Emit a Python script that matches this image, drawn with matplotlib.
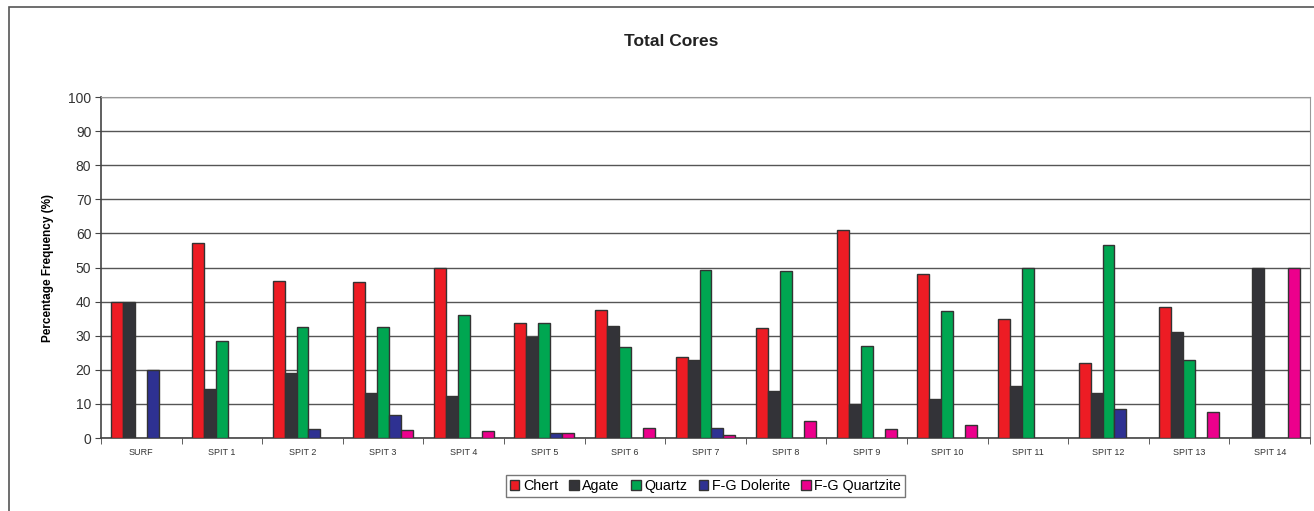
import numpy as np
import matplotlib.pyplot as plt
from matplotlib.patches import Rectangle

plt.rcParams['font.family'] = ['Liberation Sans', 'DejaVu Sans']

categories = ['SURF', 'SPIT 1', 'SPIT 2', 'SPIT 3', 'SPIT 4', 'SPIT 5', 'SPIT 6', 'SPIT 7',
              'SPIT 8', 'SPIT 9', 'SPIT 10', 'SPIT 11', 'SPIT 12', 'SPIT 13', 'SPIT 14']
chert = [40, 57.2, 45.9, 45.7, 50, 33.8, 37.6, 23.7, 32.2, 60.9, 48.2, 34.9, 21.9, 38.5, 0]
agate = [40, 14.5, 19.1, 13.2, 12.3, 29.7, 32.8, 22.8, 13.7, 10.1, 11.3, 15.3, 13.2, 31.0, 50]
quartz = [0, 28.5, 32.5, 32.5, 36.1, 33.8, 26.8, 49.4, 49.1, 27.0, 37.1, 50, 56.7, 23.0, 0]
dolerite = [20, 0, 2.6, 6.7, 0, 1.6, 0, 3.0, 0, 0, 0, 0, 8.6, 0, 0]
quartzite = [0, 0, 0, 2.3, 2.1, 1.6, 3.0, 0.8, 5.1, 2.5, 3.7, 0, 0, 7.7, 50]

series = [('Chert', chert, '#ED1C24'),
          ('Agate', agate, '#333338'),
          ('Quartz', quartz, '#00A651'),
          ('F-G Dolerite', dolerite, '#2E3192'),
          ('F-G Quartzite', quartzite, '#EC008C')]

fig = plt.figure(figsize=(13.14, 5.11), dpi=100)
ax = fig.add_axes([101 / 1314, 1 - 438 / 511, 1209 / 1314, 341 / 511])

# outer chart border
fig.patches.append(Rectangle((9 / 1314, -0.05), 1.2, 1 - 7 / 511 + 0.05,
                             transform=fig.transFigure, fill=False,
                             edgecolor='#555555', linewidth=1.2))

x = np.arange(len(categories))
w = 0.148
for i, (name, vals, col) in enumerate(series):
    vals = np.array(vals, dtype=float)
    h = np.where(vals > 0, vals, np.nan)
    ax.bar(x + (i - 2) * w, h, width=w, color=col, edgecolor='#333333',
           linewidth=1.0, label=name, zorder=3)

ax.set_xlim(-0.5, len(categories) - 0.5)
ax.set_ylim(0, 100)
ax.set_yticks(np.arange(0, 101, 10))
ax.yaxis.grid(True, color='#555555', linewidth=1.0, zorder=0)
ax.set_axisbelow(True)

ax.set_xticks(x)
ax.set_xticklabels(categories, fontsize=6.5, color='#333333')
ax.set_xticks(np.arange(-0.5, len(categories), 1), minor=True)
ax.tick_params(axis='x', which='major', length=0, pad=7)
ax.tick_params(axis='x', which='minor', length=4, direction='out', color='#444444')
ax.tick_params(axis='y', length=4, direction='out', labelsize=10, color='#444444',
               labelcolor='#333333', pad=3)

for s in ['top', 'right']:
    ax.spines[s].set_color('#999999')
for s in ['left', 'bottom']:
    ax.spines[s].set_color('#444444')
    ax.spines[s].set_linewidth(1.2)

ax.set_ylabel('Percentage Frequency (%)', fontsize=8.5, fontweight='bold', labelpad=10)
fig.text(671 / 1314, 1 - 42 / 511, 'Total Cores', ha='center', va='center',
         fontsize=12.5, fontweight='bold', color='#222222')

leg = ax.legend(loc='upper center', bbox_to_anchor=(0.5, -0.108), ncol=5, fontsize=10.3,
                frameon=True, fancybox=False, edgecolor='#555555', handlelength=0.65,
                handleheight=0.65, handletextpad=0.25, columnspacing=0.8, borderpad=0.3,
                borderaxespad=0)
leg.get_frame().set_linewidth(1.0)

fig.savefig('out.png', dpi=100)
